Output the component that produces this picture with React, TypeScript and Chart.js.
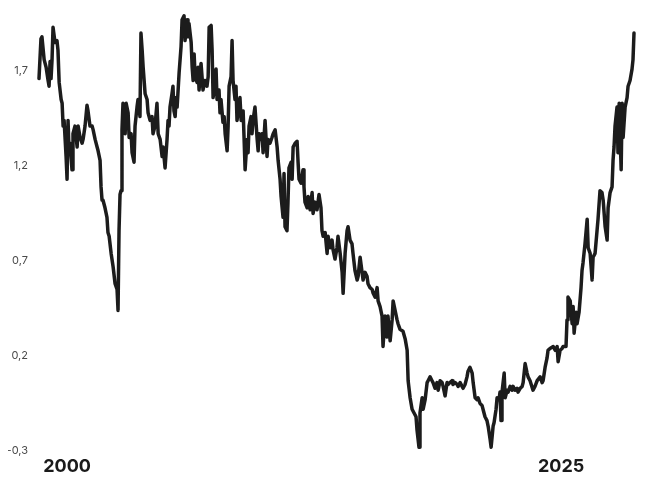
import React, { useEffect, useRef } from "react";
import { Chart, registerables } from "chart.js";

Chart.register(...registerables);

const dates: number[] = [
  1998.58, 1998.68, 1998.73, 1998.84, 1998.94, 1999.04, 1999.09, 1999.14, 1999.19, 1999.24,
  1999.29, 1999.39, 1999.49, 1999.54, 1999.60, 1999.70, 1999.75, 1999.80, 1999.85, 1999.95,
  2000.00, 2000.05, 2000.10, 2000.15, 2000.25, 2000.30, 2000.40, 2000.51, 2000.56, 2000.66,
  2000.76, 2000.81, 2000.91, 2001.01, 2001.06, 2001.16, 2001.27, 2001.32, 2001.42, 2001.52,
  2001.57, 2001.67, 2001.72, 2001.77, 2001.82, 2001.92, 2002.02, 2002.07, 2002.13, 2002.23,
  2002.33, 2002.43, 2002.53, 2002.58, 2002.63, 2002.68, 2002.73, 2002.78, 2002.83, 2002.94,
  2002.99, 2003.09, 2003.14, 2003.24, 2003.29, 2003.39, 2003.44, 2003.54, 2003.59, 2003.69,
  2003.74, 2003.80, 2003.85, 2003.95, 2004.05, 2004.10, 2004.20, 2004.30, 2004.35, 2004.45,
  2004.55, 2004.61, 2004.71, 2004.81, 2004.86, 2004.96, 2005.06, 2005.11, 2005.16, 2005.21,
  2005.31, 2005.36, 2005.41, 2005.47, 2005.52, 2005.57, 2005.67, 2005.77, 2005.82, 2005.92,
  2005.97, 2006.07, 2006.12, 2006.17, 2006.28, 2006.33, 2006.38, 2006.43, 2006.48, 2006.58,
  2006.63, 2006.68, 2006.78, 2006.83, 2006.88, 2006.98, 2007.08, 2007.14, 2007.19, 2007.29,
  2007.34, 2007.39, 2007.49, 2007.54, 2007.59, 2007.69, 2007.74, 2007.79, 2007.89, 2007.95,
  2008.00, 2008.10, 2008.15, 2008.20, 2008.30, 2008.35, 2008.40, 2008.50, 2008.55, 2008.60,
  2008.70, 2008.75, 2008.81, 2008.91, 2008.96, 2009.01, 2009.11, 2009.16, 2009.21, 2009.31,
  2009.36, 2009.41, 2009.51, 2009.62, 2009.67, 2009.72, 2009.82, 2009.87, 2009.92, 2010.02,
  2010.12, 2010.17, 2010.27, 2010.37, 2010.43, 2010.53, 2010.63, 2010.68, 2010.78, 2010.83,
  2010.93, 2010.98, 2011.03, 2011.13, 2011.18, 2011.23, 2011.34, 2011.39, 2011.44, 2011.54,
  2011.64, 2011.69, 2011.74, 2011.84, 2011.94, 2011.99, 2012.04, 2012.15, 2012.20, 2012.30,
  2012.40, 2012.45, 2012.55, 2012.65, 2012.75, 2012.85, 2012.90, 2012.96, 2013.06, 2013.16,
  2013.21, 2013.31, 2013.41, 2013.46, 2013.56, 2013.66, 2013.71, 2013.82, 2013.92, 2013.97,
  2014.07, 2014.17, 2014.22, 2014.32, 2014.42, 2014.47, 2014.57, 2014.68, 2014.73, 2014.83,
  2014.93, 2014.98, 2015.08, 2015.18, 2015.23, 2015.33, 2015.44, 2015.49, 2015.59, 2015.69,
  2015.74, 2015.84, 2015.94, 2015.99, 2016.09, 2016.19, 2016.24, 2016.35, 2016.45, 2016.50,
  2016.60, 2016.70, 2016.75, 2016.85, 2017.00, 2017.11, 2017.21, 2017.26, 2017.36, 2017.46,
  2017.56, 2017.66, 2017.71, 2017.81, 2017.86, 2017.97, 2018.02, 2018.12, 2018.22, 2018.27,
  2018.37, 2018.47, 2018.52, 2018.62, 2018.72, 2018.78, 2018.88, 2018.98, 2019.03, 2019.13,
  2019.23, 2019.28, 2019.38, 2019.48, 2019.53, 2019.64, 2019.74, 2019.79, 2019.89, 2019.99,
  2020.04, 2020.14, 2020.24, 2020.29, 2020.39, 2020.50, 2020.55, 2020.65, 2020.75, 2020.80,
  2020.90, 2021.00, 2021.05, 2021.15, 2021.25, 2021.31, 2021.41, 2021.46, 2021.56, 2021.61,
  2021.71, 2021.76, 2021.86, 2021.91, 2021.96, 2022.01, 2022.12, 2022.17, 2022.27, 2022.32,
  2022.42, 2022.52, 2022.57, 2022.67, 2022.77, 2022.82, 2022.93, 2023.03, 2023.08, 2023.18,
  2023.28, 2023.33, 2023.43, 2023.58, 2023.68, 2023.79, 2023.94, 2024.04, 2024.09, 2024.19,
  2024.29, 2024.34, 2024.44, 2024.60, 2024.70, 2024.80, 2024.85, 2024.95, 2025.05, 2025.10,
  2025.25, 2025.30, 2025.35, 2025.46, 2025.56, 2025.61, 2025.66, 2025.76, 2025.81, 2025.91,
  2026.01, 2026.06, 2026.11, 2026.21, 2026.32, 2026.37, 2026.47, 2026.57, 2026.62, 2026.72,
  2026.82, 2026.87, 2026.97, 2027.07, 2027.13, 2027.23, 2027.33, 2027.38, 2027.48, 2027.58,
  2027.63, 2027.68, 2027.73, 2027.83, 2027.88, 2027.94, 2028.04, 2028.09, 2028.14, 2028.24,
  2028.34, 2028.39, 2028.49, 2028.59, 2028.64, 2028.69,
];

const values: number[] = [
  1.66, 1.87, 1.88, 1.76, 1.72, 1.65, 1.62, 1.75, 1.66, 1.76,
  1.93, 1.85, 1.86, 1.81, 1.64, 1.55, 1.53, 1.41, 1.44, 1.25,
  1.13, 1.44, 1.28, 1.32, 1.18, 1.37, 1.41, 1.30, 1.41, 1.35,
  1.32, 1.34, 1.41, 1.52, 1.49, 1.41, 1.41, 1.39, 1.34, 1.30,
  1.28, 1.23, 1.09, 1.02, 1.02, 0.98, 0.93, 0.85, 0.83, 0.74,
  0.67, 0.58, 0.55, 0.44, 0.86, 1.05, 1.07, 1.39, 1.53, 1.37,
  1.53, 1.48, 1.35, 1.37, 1.27, 1.22, 1.41, 1.51, 1.55, 1.46,
  1.90, 1.81, 1.72, 1.58, 1.55, 1.48, 1.44, 1.46, 1.37, 1.41,
  1.53, 1.37, 1.34, 1.25, 1.30, 1.19, 1.34, 1.44, 1.41, 1.51,
  1.58, 1.62, 1.49, 1.46, 1.56, 1.51, 1.69, 1.83, 1.97, 1.99,
  1.86, 1.97, 1.88, 1.95, 1.85, 1.72, 1.65, 1.79, 1.67, 1.64,
  1.72, 1.60, 1.74, 1.67, 1.60, 1.65, 1.62, 1.67, 1.93, 1.94,
  1.81, 1.56, 1.64, 1.71, 1.55, 1.60, 1.48, 1.55, 1.43, 1.46,
  1.37, 1.28, 1.41, 1.62, 1.67, 1.86, 1.65, 1.55, 1.62, 1.44,
  1.51, 1.56, 1.44, 1.49, 1.34, 1.18, 1.34, 1.27, 1.41, 1.46,
  1.37, 1.44, 1.51, 1.34, 1.28, 1.37, 1.34, 1.37, 1.27, 1.44,
  1.25, 1.34, 1.32, 1.35, 1.37, 1.39, 1.30, 1.23, 1.13, 1.04,
  0.93, 1.16, 0.88, 0.86, 1.01, 1.19, 1.22, 1.13, 1.30, 1.32,
  1.33, 1.22, 1.13, 1.11, 1.18, 1.09, 1.01, 0.98, 1.04, 0.97,
  1.06, 0.95, 1.01, 0.97, 1.05, 0.98, 0.86, 0.83, 0.85, 0.74,
  0.83, 0.77, 0.81, 0.76, 0.71, 0.77, 0.83, 0.74, 0.64, 0.53,
  0.74, 0.86, 0.88, 0.81, 0.79, 0.74, 0.65, 0.60, 0.62, 0.72,
  0.64, 0.60, 0.64, 0.62, 0.58, 0.56, 0.55, 0.53, 0.51, 0.56,
  0.49, 0.46, 0.41, 0.25, 0.41, 0.30, 0.41, 0.28, 0.39, 0.49,
  0.44, 0.39, 0.37, 0.34, 0.33, 0.29, 0.23, 0.07, -0.02, -0.08,
  -0.10, -0.12, -0.19, -0.28, -0.10, -0.02, -0.08, -0.03, 0.06, 0.07,
  0.09, 0.07, 0.06, 0.03, 0.06, 0.02, 0.07, 0.06, 0.04, -0.01,
  0.06, 0.05, 0.06, 0.07, 0.05, 0.06, 0.05, 0.04, 0.06, 0.04,
  0.03, 0.05, 0.09, 0.12, 0.14, 0.11, 0.06, -0.02, -0.03, -0.02,
  -0.05, -0.06, -0.08, -0.12, -0.14, -0.17, -0.24, -0.28, -0.17, -0.15,
  -0.08, -0.02, -0.03, 0.01, -0.14, 0.01, 0.11, -0.02, 0.02, 0.01,
  0.04, 0.02, 0.04, 0.02, 0.03, 0.01, 0.03, 0.04, 0.06, 0.16,
  0.11, 0.09, 0.07, 0.02, 0.04, 0.07, 0.09, 0.06, 0.07, 0.14,
  0.19, 0.23, 0.24, 0.25, 0.23, 0.25, 0.17, 0.23, 0.24, 0.25,
  0.25, 0.39, 0.51, 0.49, 0.37, 0.46, 0.32, 0.43, 0.37, 0.43,
  0.56, 0.65, 0.69, 0.79, 0.92, 0.77, 0.74, 0.60, 0.72, 0.74,
  0.86, 0.92, 1.07, 1.06, 1.02, 0.88, 0.81, 0.98, 1.06, 1.09,
  1.23, 1.30, 1.41, 1.51, 1.27, 1.53, 1.18, 1.53, 1.35, 1.51,
  1.56, 1.62, 1.65, 1.71, 1.76, 1.90,
];

const xTickYears: number[] = [2000, 2025];
const yTickValues: number[] = [-0.3, 0.2, 0.7, 1.2, 1.7];

export default function App() {
  const canvasRef = useRef<HTMLCanvasElement | null>(null);

  useEffect(() => {
    const canvas = canvasRef.current;
    if (!canvas) return;
    const points = dates.map((d, i) => ({ x: d, y: values[i] }));
    const chart = new Chart(canvas, {
      type: "line",
      data: {
        datasets: [
          {
            data: points,
            borderColor: "#1c1c1c",
            borderWidth: 3.5,
            pointRadius: 0,
            tension: 0,
            borderJoinStyle: "round",
            borderCapStyle: "round",
            fill: false,
            clip: false as any,
          },
        ],
      },
      options: {
        responsive: false,
        animation: false,
        layout: { padding: { top: 6, right: 8, left: 0, bottom: 0 } },
        plugins: { legend: { display: false }, tooltip: { enabled: false } },
        scales: {
          x: {
            type: "linear",
            min: 1998.58,
            max: 2028.69,
            grid: { display: false, drawTicks: false },
            border: { display: false },
            afterBuildTicks: (scale: any) => {
              scale.ticks = xTickYears.map((v) => ({ value: v }));
            },
            afterFit: (scale: any) => {
              scale.height = 25;
              scale.paddingLeft = 0;
              scale.paddingRight = 0;
            },
            ticks: {
              autoSkip: false,
              maxRotation: 0,
              padding: 5,
              color: "#1a1a1a",
              font: { family: "Inter, 'Open Sans', sans-serif", size: 18, weight: "bold" },
              callback: (v: any) => String(v),
            },
          },
          y: {
            type: "linear",
            min: -0.3,
            max: 2.0,
            grid: { display: false, drawTicks: false },
            border: { display: false },
            afterBuildTicks: (scale: any) => {
              scale.ticks = yTickValues.map((v) => ({ value: v }));
            },
            afterFit: (scale: any) => {
              scale.width = 31;
              scale.paddingTop = 0;
              scale.paddingBottom = 0;
            },
            ticks: {
              autoSkip: false,
              padding: 11,
              color: "#4a4a4a",
              font: { family: "Inter, 'Open Sans', sans-serif", size: 11 },
              callback: (v: any) => Number(v).toFixed(1).replace(".", ","),
            },
          },
        },
      },
    });
    return () => chart.destroy();
  }, []);

  return (
    <div style={{ width: 634, height: 468 }}>
      <canvas ref={canvasRef} width={634} height={468} />
    </div>
  );
}
